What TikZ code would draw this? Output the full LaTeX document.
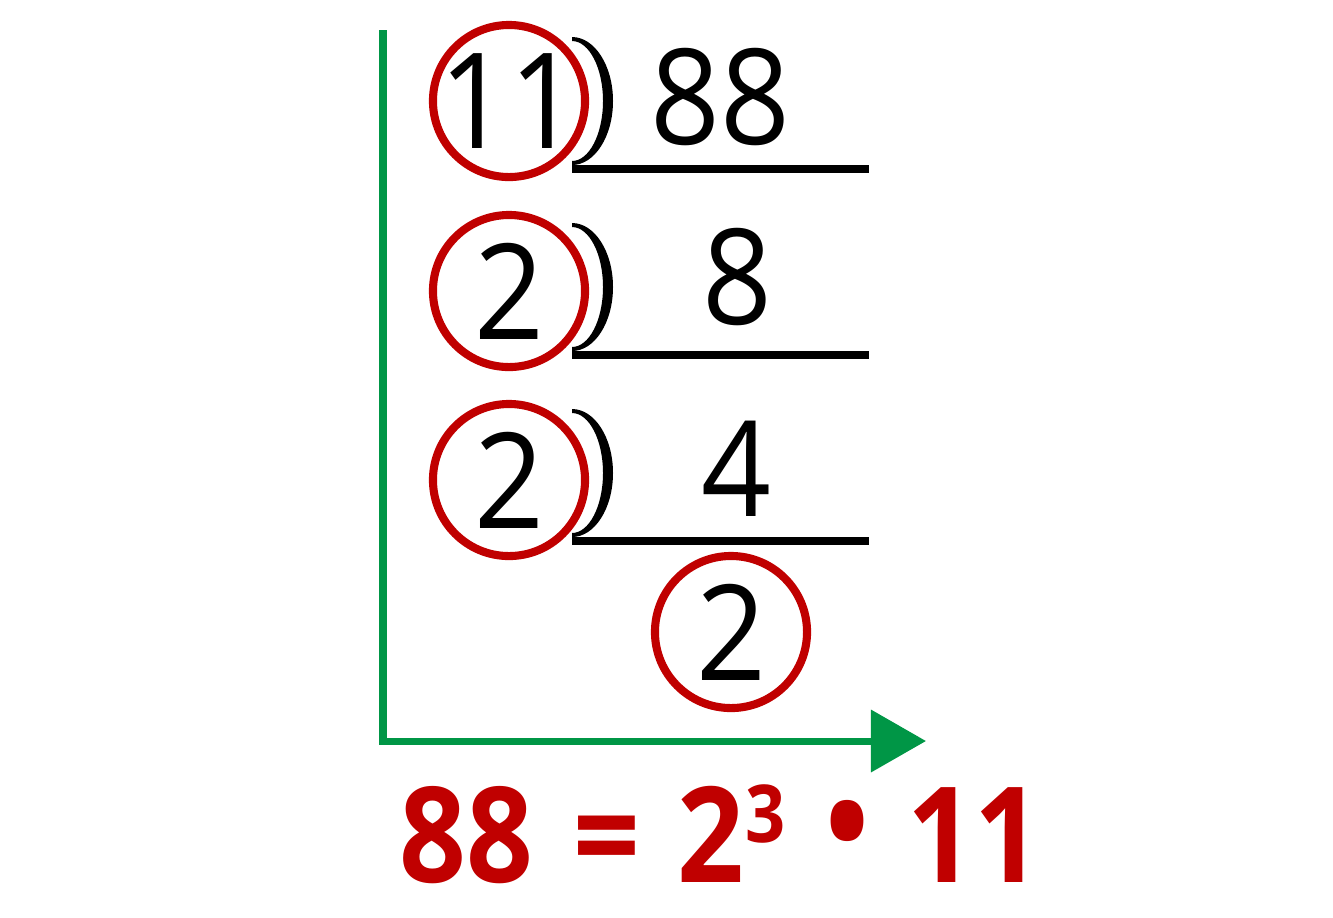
\documentclass[tikz,border=0pt]{standalone}
\usepackage{fontspec}
\setmainfont{Open Sans}[FakeStretch=0.92]
\newfontfamily\eqfont{Open Sans}[FakeStretch=0.88]
\usetikzlibrary{arrows.meta}
\definecolor{factred}{RGB}{192,0,0}
\definecolor{axisgreen}{RGB}{0,150,70}
\tikzset{
  num/.style={font=\fontsize{37.8}{40}\selectfont, inner sep=0pt},
  fac/.style={num, circle, draw=factred, line width=2.3pt, minimum size=1.52cm,
    execute at begin node={\hbox to 0pt\bgroup\hss}, execute at end node={\hss\egroup}},
  bar/.style={line width=2.3pt},
  axis/.style={draw=axisgreen, line width=2pt, -{Triangle[length=0.55cm, width=0.61cm]}},
  res/.style={inner sep=0pt, text=factred, font=\eqfont\bfseries\fontsize{37.8}{40}\selectfont, anchor=base}
}
\begin{document}
\begin{tikzpicture}[x=0.01cm, y=-0.01cm]
  \useasboundingbox (0,0) rectangle (1333,917);
  % axis
  \coordinate (top) at (383,30);
  \coordinate (tip) at (926,741);
  \draw[axis] (top) |- (tip);
  % prime factors
  \node[fac] (f1) at (509,101) {11};
  \node[fac] (f2) at (509,291) {2};
  \node[fac] (f3) at (509,480) {2};
  \node[fac] (f4) at (731,632) {2};
  % quotients
  \node[num, anchor=base] (q1) at (720,144) {88};
  \node[num, anchor=base] (q2) at (737,324) {8};
  \node[num, anchor=base] (q3) at (736,516) {4};
  % division brackets
  \foreach \y in {169,355,541} {
    \fill (572,\y-132) arc[start angle=-90, end angle=90, x radius=41, y radius=64]
      -- (572,\y-8) arc[start angle=90, end angle=-90, x radius=31, y radius=60] -- cycle;
    \draw[bar] (572,\y) -- (869,\y);
  }
  % result
  \node[res] (r88) at (466,882) {88};
  \node[res] (req) at (607,882) {=};
  \node[res] (rbase) at (711,882) {2};
  \node[res, font=\eqfont\bfseries\fontsize{22.7}{24}\selectfont] (rexp) at (766,842) {3};
  \node[res, anchor=center] (rdot) at (847,835) {\textbullet};
  \node[res] (r11) at (974,882) {11};
\end{tikzpicture}
\end{document}
